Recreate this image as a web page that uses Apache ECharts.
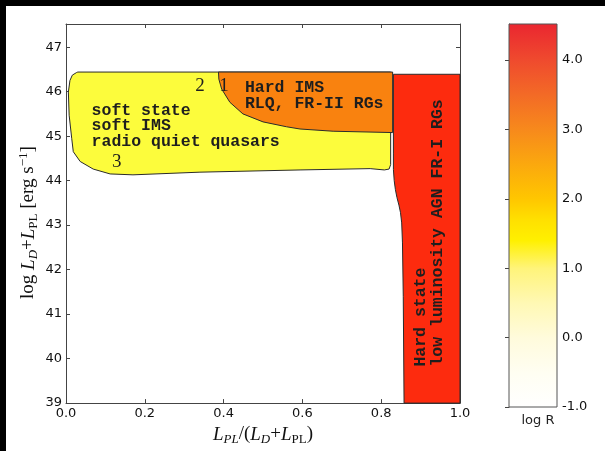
<!DOCTYPE html>
<html><head><meta charset="utf-8">
<script src="https://cdn.jsdelivr.net/npm/echarts@6/dist/echarts.min.js"></script>
<style>html,body{margin:0;padding:0;background:#fff}#c{width:605px;height:451px}</style>
</head><body><div id="c"></div>
<script>
// ---- data ----
const xTickValues = [0, 0.2, 0.4, 0.6, 0.8, 1.0];
const yTickValues = [39, 40, 41, 42, 43, 44, 45, 46, 47];
const cbarTickValues = [-1, 0, 1, 2, 3, 4];

// region outlines in data coordinates [L_PL/(L_D+L_PL), log(L_D+L_PL)]
const softRegion = [
  [0.030, 46.44], [0.824, 46.44], [0.824, 44.36], [0.820, 44.26], [0.808, 44.24],
  [0.772, 44.27], [0.594, 44.24], [0.340, 44.19], [0.170, 44.13], [0.112, 44.15],
  [0.069, 44.26], [0.036, 44.43], [0.0185, 44.65], [0.0145, 44.95], [0.008, 45.47],
  [0.006, 45.99], [0.010, 46.25], [0.016, 46.37], [0.027, 46.43]
];
const hardImsRegion = [
  [0.387, 46.44], [0.829, 46.44], [0.829, 45.08], [0.678, 45.11], [0.594, 45.16],
  [0.560, 45.21], [0.500, 45.32], [0.449, 45.50], [0.416, 45.76], [0.395, 46.06],
  [0.388, 46.28]
];
const hardStateRegion = [
  [0.831, 46.39], [1.0, 46.39], [1.0, 39.0], [0.858, 39.0], [0.856, 41.4],
  [0.854, 42.6], [0.852, 43.05], [0.849, 43.28], [0.845, 43.45], [0.840, 43.62],
  [0.836, 43.80], [0.833, 44.0], [0.831, 44.25], [0.831, 44.6]
];
const regionLogR = [1.4, 3.0, 4.3];

// colour bar (log R)
const cbarMin = -1, cbarMax = 4.52;
const cbarValues = [-1, -0.5, 0, 0.5, 1, 1.4, 1.7, 2, 2.5, 3, 3.5, 4, 4.52];
const cbarColors = ['#ffffff', '#fffef2', '#fffbdc', '#fff8b4', '#fff47a', '#fff000',
  '#ffe000', '#ffc600', '#fba80e', '#f7891c', '#f36a26', '#ef4a2e', '#ea2630'];

// ---- option ----
const regions = [softRegion, hardImsRegion, hardStateRegion];
const regionFill = ['#fcfc3c', '#f9820f', '#fd2b0e'];
const mono = 'bold 16.5px "Liberation Mono", monospace';
const serifDigit = '19px "Liberation Serif", serif';
const notes = [
  {text: 'soft state', x: 0.065, y: 45.57, font: mono},
  {text: 'soft IMS', x: 0.065, y: 45.225, font: mono},
  {text: 'radio quiet quasars', x: 0.065, y: 44.88, font: mono},
  {text: 'Hard IMS', x: 0.454, y: 46.08, font: mono},
  {text: 'RLQ, FR-II RGs', x: 0.454, y: 45.72, font: mono},
  {text: '2', x: 0.340, y: 46.13, font: serifDigit, align: 'center'},
  {text: '1', x: 0.401, y: 46.13, font: serifDigit, align: 'center'},
  {text: '3', x: 0.129, y: 44.41, font: serifDigit, align: 'center'},
  {text: 'Hard state', x: 0.901, y: 39.82, font: mono, rot: 90},
  {text: 'low luminosity AGN FR-I RGs', x: 0.944, y: 39.82, font: mono, rot: 90}
];

const frame = {color: '#444', width: 1};
const tickFont = {fontFamily: 'DejaVu Sans', fontSize: 13, color: '#111'};
const isOn = (v, arr) => arr.some(t => Math.abs(t - v) < 1e-6);

const serif = '"Liberation Serif", serif';
const rich = {
  n: {fontFamily: serif, fontSize: 19, color: '#111', lineHeight: 23},
  i: {fontFamily: serif, fontSize: 19, fontStyle: 'italic', color: '#111', lineHeight: 23},
  s: {fontFamily: serif, fontSize: 13, color: '#111', verticalAlign: 'bottom', lineHeight: 13},
  si: {fontFamily: serif, fontSize: 13, fontStyle: 'italic', color: '#111', verticalAlign: 'bottom', lineHeight: 13},
  sup: {fontFamily: serif, fontSize: 13, color: '#111', verticalAlign: 'top', lineHeight: 13}
};

const option = {
  animation: false,
  backgroundColor: '#fff',
  graphic: [
    {type: 'rect', shape: {x: 0, y: 0, width: 605, height: 6}, style: {fill: '#000'}, z: 100},
    {type: 'rect', shape: {x: 0, y: 0, width: 6, height: 451}, style: {fill: '#000'}, z: 100}
  ],
  grid: [
    {left: 66, top: 24, width: 394, height: 383},
    {left: 509, top: 24, width: 48, height: 383}
  ],
  xAxis: [
    {gridIndex: 0, type: 'value', min: 0, max: 1, interval: 0.2, position: 'bottom',
     axisLine: {show: true, onZero: false, lineStyle: frame},
     axisTick: {show: true, inside: true, length: 4, lineStyle: frame},
     axisLabel: Object.assign({margin: 4, formatter: v => isOn(v, xTickValues) ? v.toFixed(1) : ''}, tickFont),
     splitLine: {show: false},
     name: '{i|L}{si|PL}{n|/(}{i|L}{si|D}{n|+}{i|L}{s|PL}{n|)}',
     nameLocation: 'middle', nameGap: 13, nameTextStyle: {rich: rich}},
    {gridIndex: 0, type: 'value', min: 0, max: 1, interval: 0.2, position: 'top',
     axisLine: {show: true, onZero: false, lineStyle: frame},
     axisTick: {show: true, inside: true, length: 4, lineStyle: frame},
     axisLabel: {show: false}, splitLine: {show: false}},
    {gridIndex: 1, type: 'value', min: 0, max: 1,
     axisLine: {show: false}, axisTick: {show: false}, axisLabel: {show: false}, splitLine: {show: false},
     name: 'log R', nameLocation: 'middle', nameGap: 7,
     nameTextStyle: {fontFamily: 'DejaVu Sans', fontSize: 13, color: '#222', padding: [0, 0, 0, 10]}}
  ],
  yAxis: [
    {gridIndex: 0, type: 'value', min: 39, max: 47.52, interval: 1, position: 'left',
     axisLine: {show: true, onZero: false, lineStyle: frame},
     axisTick: {show: true, inside: true, length: 4, lineStyle: frame},
     axisLabel: Object.assign({margin: 4, showMaxLabel: false, formatter: v => isOn(v, yTickValues) ? String(Math.round(v)) : ''}, tickFont),
     splitLine: {show: false},
     name: '{n|log }{i|L}{si|D}{n|+}{i|L}{s|PL}{n| [erg s}{sup|−1}{n|]}',
     nameLocation: 'middle', nameRotate: 90, nameGap: 26, nameMoveOverlap: false,
     nameTextStyle: {rich: rich, padding: [0, 18, 0, 0]}},
    {gridIndex: 0, type: 'value', min: 39, max: 47.52, interval: 1, position: 'right',
     axisLine: {show: true, onZero: false, lineStyle: frame},
     axisTick: {show: true, inside: true, length: 4, lineStyle: frame},
     axisLabel: {show: false}, splitLine: {show: false}},
    {gridIndex: 1, type: 'value', min: cbarMin, max: cbarMax, interval: 1, position: 'right',
     axisLine: {show: true, lineStyle: frame},
     axisTick: {show: true, inside: true, length: 4, lineStyle: frame},
     axisLabel: Object.assign({margin: 5, showMaxLabel: false, formatter: v => isOn(v, cbarTickValues) ? v.toFixed(1) : ''}, tickFont),
     splitLine: {show: false}}
  ],
  series: [
    {type: 'custom', xAxisIndex: 0, yAxisIndex: 0, silent: true,
     data: regions.map((r, i) => [i, regionLogR[i]]),
     renderItem: (params, api) => {
       const pts = regions[params.dataIndex].map(p => api.coord(p));
       return {type: 'polygon', shape: {points: pts},
               style: {fill: regionFill[params.dataIndex], stroke: '#2b2b2b', lineWidth: 1}};
     }},
    {type: 'custom', xAxisIndex: 2, yAxisIndex: 2, silent: true,
     data: [[0, cbarMin]],
     renderItem: (params, api) => {
       const p0 = api.coord([0, cbarMin]);
       const p1 = api.coord([1, cbarMax]);
       const stops = cbarValues.map((v, i) => ({offset: (v - cbarMin) / (cbarMax - cbarMin), color: cbarColors[i]}));
       return {type: 'rect',
               shape: {x: p0[0], y: p1[1], width: p1[0] - p0[0], height: p0[1] - p1[1]},
               style: {fill: {type: 'linear', x: 0, y: 1, x2: 0, y2: 0, colorStops: stops},
                       stroke: '#555', lineWidth: 1}};
     }},
    {type: 'custom', xAxisIndex: 0, yAxisIndex: 0, silent: true, z: 5,
     data: notes.map(n => [n.x, n.y]),
     renderItem: (params, api) => {
       const n = notes[params.dataIndex];
       const p = api.coord([n.x, n.y]);
       return {type: 'text', x: p[0], y: p[1], rotation: (n.rot || 0) * Math.PI / 180,
               style: {text: n.text, font: n.font, fill: '#1e1e1e',
                       align: n.align || 'left', verticalAlign: 'middle'}};
     }}
  ]
};
const chart = echarts.init(document.getElementById('c'), null, {renderer: 'canvas'});
chart.setOption(option);
</script></body></html>
